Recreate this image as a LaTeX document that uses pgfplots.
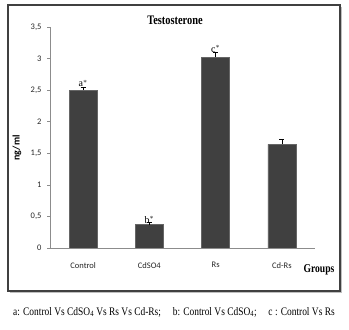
\documentclass[border=0pt]{standalone}
\usepackage{fontspec}
\setmainfont{Liberation Serif}
\newfontfamily\carlito{Carlito}
\usepackage{graphicx}
\usepackage{pgfplots}
\pgfplotsset{compat=1.18}
\begin{document}
\begin{tikzpicture}[x=1pt,y=1pt]
\path (0,0) rectangle (349,330);
\draw[black!75, line width=1.2pt] (8,39) rectangle (340,325);
\draw[black!25, line width=1pt] (10,37.5) -- (341.5,37.5) -- (341.5,323);
\begin{axis}[
  at={(50pt,82pt)}, anchor=south west,
  scale only axis, width=265pt, height=221pt,
  xmin=-0.5, xmax=3.5, ymin=0, ymax=3.5,
  axis x line*=bottom, axis y line*=left,
  axis line style={black!45, line width=0.6pt},
  xtick={0,1,2,3}, xticklabels={Control,CdSO4,Rs,Cd-Rs},
  major x tick style={draw=none},
  extra x ticks={0.5,1.5,2.5,3.5}, extra x tick labels={},
  extra x tick style={major tick length=4pt, tick style={black!45, line width=0.6pt}, tick align=outside},
  ytick={0,0.5,...,3.5},
  yticklabels={0,{0,5},1,{1,5},2,{2,5},3,{3,5}},
  tick align=outside, major tick length=3pt,
  tick style={black!45, line width=0.6pt},
  ticklabel style={font=\carlito\fontsize{8.5}{10}\selectfont, text=black!85},
  xticklabel style={yshift=-8pt},
  yticklabel style={xshift=-2pt},
  /pgf/number format/assume math mode=true,
]
\addplot[ybar, bar width=28pt, draw=black!60, line width=0.4pt,
  left color=black!75, middle color=black!58, right color=black!75,
  error bars/.cd, y dir=plus, y explicit, error bar style={black, line width=0.7pt}, error mark options={rotate=90, mark size=2.5pt, black, line width=0.7pt}]
coordinates {(0,2.50) +- (0,0.05) (1,0.37) +- (0,0.03) (2,3.02) +- (0,0.08) (3,1.64) +- (0,0.08)};
\node[font=\fontsize{10}{12}\selectfont, anchor=south, inner sep=1pt] at (axis cs:0,2.53) {a$^{*}$};
\node[font=\fontsize{10}{12}\selectfont, anchor=south, inner sep=1pt] at (axis cs:1,0.37) {b$^{*}$};
\node[font=\fontsize{10}{12}\selectfont, anchor=south, inner sep=1pt] at (axis cs:2,3.08) {c$^{*}$};
\end{axis}
\node[font=\bfseries\fontsize{13}{15}\selectfont] at (175,310) {\scalebox{0.8}[1]{Testosterone}};
\node[font=\carlito\bfseries\fontsize{10}{12}\selectfont, rotate=90] at (17,182) {ng/ml};
\node[font=\bfseries\fontsize{12}{14}\selectfont] at (319,60) {\scalebox{0.8}[1]{Groups}};
\node[font=\fontsize{11.5}{13}\selectfont] at (174,18) {\scalebox{0.82}[1]{a: Control Vs CdSO\textsubscript{4} Vs Rs Vs Cd-Rs;\quad\ b: Control Vs CdSO\textsubscript{4};\quad\ c : Control Vs Rs}};
\end{tikzpicture}
\end{document}
